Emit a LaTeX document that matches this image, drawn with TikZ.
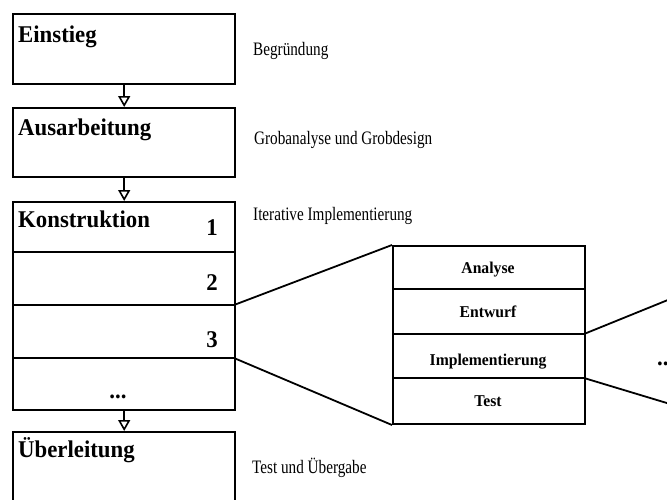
\documentclass[tikz,border=0pt]{standalone}
\usepackage{fontspec}
\setmainfont{Liberation Serif}
\newfontfamily\headfont{Liberation Serif}[FakeStretch=0.95]
\newfontfamily\notefont{Liberation Serif}[FakeStretch=0.8]
\usetikzlibrary{arrows.meta}

\tikzset{
  phase/.style={draw, line width=2.4pt, inner sep=0pt, anchor=north west,
    minimum width=222pt},
  iter/.style={draw, line width=2pt, inner sep=0pt, anchor=north west,
    minimum width=192pt, minimum height=178pt},
  divider/.style={line width=2pt},
  flow/.style={line width=2.5pt,
    -{Triangle[open, length=11pt, width=12pt, line width=1.6pt]}},
  conn/.style={line width=1.8pt},
  headtext/.style={anchor=base west, inner sep=0pt,
    font=\headfont\bfseries\fontsize{24}{28}\selectfont},
  numtext/.style={anchor=base, inner sep=0pt,
    font=\headfont\bfseries\fontsize{24}{28}\selectfont},
  steptext/.style={anchor=base, inner sep=0pt,
    font=\headfont\bfseries\fontsize{16.5}{20}\selectfont},
  notetext/.style={anchor=base west, inner sep=0pt,
    font=\notefont\fontsize{19}{22}\selectfont}
}

\begin{document}
\begin{tikzpicture}[x=1pt, y=-1pt]
\useasboundingbox (0,0) rectangle (667,499);
\clip (0,0) rectangle (667,499);

% phase boxes
\node[phase, minimum height=70pt]  (einstieg) at (12,13) {};
\node[phase, minimum height=69pt]  (ausarb)   at (12,107) {};
\node[phase, minimum height=208pt] (konstr)   at (12,201) {};
\node[phase, minimum height=100pt] (ueberl)   at (12,431) {};

% iteration dividers inside the construction phase
\coordinate (k1w) at (12,252);  \coordinate (k1e) at (234,252);
\coordinate (k2w) at (12,305);  \coordinate (k2e) at (234,305);
\coordinate (k3w) at (12,358);  \coordinate (k3e) at (234,358);
\draw[divider] (k1w) -- (k1e);
\draw[divider] (k2w) -- (k2e);
\draw[divider] (k3w) -- (k3e);

% flow between phases
\draw[flow] (einstieg.south) -- (ausarb.north);
\draw[flow] (ausarb.south) -- (konstr.north);
\draw[flow] (konstr.south) -- (ueberl.north);

% phase titles
\node[headtext] (t1) at (18,42)  {Einstieg};
\node[headtext] (t2) at (18,135) {Ausarbeitung};
\node[headtext] (t3) at (18,227) {Konstruktion};
\node[headtext] (t4) at (18,457) {Überleitung};

% iteration numbers
\node[numtext] (n1) at (212,235) {1};
\node[numtext] (n2) at (212,290) {2};
\node[numtext] (n3) at (212,347) {3};
\node[numtext] (n4) at (118,398) {...};

% descriptions
\node[notetext] (d1) at (253,55)  {Begründung};
\node[notetext] (d2) at (254,144) {Grobanalyse und Grobdesign};
\node[notetext] (d3) at (253,220) {Iterative Implementierung};
\node[notetext] (d4) at (252,473) {Test und Übergabe};

% one iteration in detail
\node[iter] (iter) at (392,245) {};
\coordinate (s1w) at (392,289); \coordinate (s1e) at (584,289);
\coordinate (s2w) at (392,334); \coordinate (s2e) at (584,334);
\coordinate (s3w) at (392,378); \coordinate (s3e) at (584,378);
\draw[divider] (s1w) -- (s1e);
\draw[divider] (s2w) -- (s2e);
\draw[divider] (s3w) -- (s3e);

\node[steptext] (a1) at (488,273) {Analyse};
\node[steptext] (a2) at (488,317) {Entwurf};
\node[steptext] (a3) at (488,365) {Implementierung};
\node[steptext] (a4) at (488,406) {Test};

% zoom lines from iteration 2 to the detail box
\draw[conn] (k2e) -- (iter.north west);
\draw[conn] (k3e) -- (iter.south west);

% zoom lines from the implementation step onward
\coordinate (o1) at (690,291);
\coordinate (o2) at (690,410);
\draw[conn] (s2e) -- (o1);
\draw[conn] (s3e) -- (o2);
\node[anchor=base west, inner sep=0pt,
  font=\headfont\bfseries\fontsize{24}{28}\selectfont] (more) at (657,365) {...};
\end{tikzpicture}
\end{document}
